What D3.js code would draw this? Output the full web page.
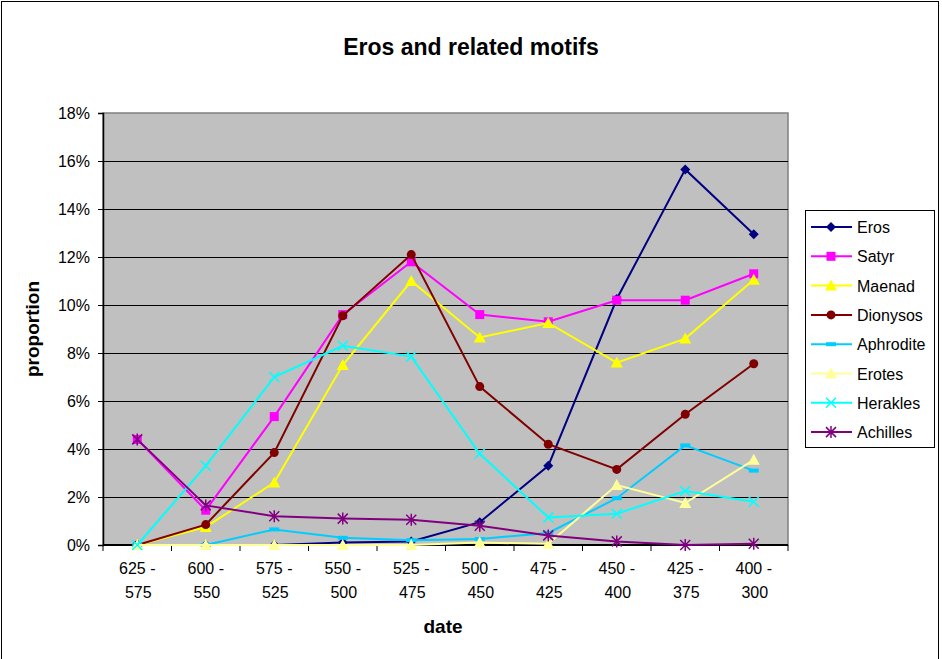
<!DOCTYPE html>
<html>
<head>
<meta charset="utf-8">
<script src="https://cdn.jsdelivr.net/npm/d3@7"></script>
<style>
body { margin: 0; background: #fff; }
text { font-family: "Liberation Sans", Arial, sans-serif; }
</style>
</head>
<body>
<script>
var dates = ["625 - 575", "600 - 550", "575 - 525", "550 - 500", "525 - 475",
             "500 - 450", "475 - 425", "450 - 400", "425 - 375", "400 - 300"];
var eros      = [0, 0, 0, 0.1, 0.15, 0.95, 3.3, 10.25, 15.65, 12.95];
var satyr     = [4.4, 1.45, 5.35, 9.6, 11.8, 9.6, 9.3, 10.2, 10.2, 11.3];
var maenad    = [0, 0.75, 2.6, 7.5, 11.0, 8.65, 9.25, 7.6, 8.6, 11.05];
var dionysos  = [0, 0.85, 3.85, 9.55, 12.1, 6.6, 4.2, 3.15, 5.45, 7.55];
var aphrodite = [0, 0, 0.65, 0.3, 0.2, 0.25, 0.5, 1.95, 4.15, 3.1];
var erotes    = [0, 0, 0, 0, 0, 0.1, 0.05, 2.5, 1.75, 3.55];
var herakles  = [0, 3.3, 7.0, 8.3, 7.85, 3.8, 1.15, 1.3, 2.25, 1.8];
var achilles  = [4.4, 1.65, 1.2, 1.1, 1.05, 0.8, 0.4, 0.15, 0, 0.05];
var yTicks = [0, 2, 4, 6, 8, 10, 12, 14, 16, 18];

var series = [
  {name: "Eros", values: eros, color: "#000080", marker: "diamond"},
  {name: "Satyr", values: satyr, color: "#FF00FF", marker: "square"},
  {name: "Maenad", values: maenad, color: "#FFFF00", marker: "triangle"},
  {name: "Dionysos", values: dionysos, color: "#800000", marker: "circle"},
  {name: "Aphrodite", values: aphrodite, color: "#00CCFF", marker: "dash"},
  {name: "Erotes", values: erotes, color: "#FFFF99", marker: "triangle"},
  {name: "Herakles", values: herakles, color: "#00FFFF", marker: "x"},
  {name: "Achilles", values: achilles, color: "#800080", marker: "star"}
];

var w = 942, h = 659;
var pLeft = 103, pRight = 788, pTop = 113, pBottom = 545;

var svg = d3.select("body").append("svg")
  .attr("width", w)
  .attr("height", h);

// chart frame
svg.append("rect")
  .attr("x", 1.5).attr("y", 1.5)
  .attr("width", 937).attr("height", 700)
  .attr("fill", "#fff")
  .attr("stroke", "#000");

svg.append("text")
  .attr("x", 471).attr("y", 55)
  .attr("text-anchor", "middle")
  .attr("font-size", "23px")
  .attr("font-weight", "bold")
  .text("Eros and related motifs");

var x = d3.scaleBand().domain(dates).range([pLeft, pRight]);
var y = d3.scaleLinear().domain([0, 18]).range([pBottom, pTop]);

// plot area
svg.append("rect")
  .attr("x", pLeft).attr("y", pTop)
  .attr("width", pRight - pLeft).attr("height", pBottom - pTop)
  .attr("fill", "#C0C0C0")
  .attr("stroke", "#808080")
  .attr("stroke-width", 1.5);

svg.selectAll(".grid")
  .data(yTicks.slice(1, -1))
  .enter()
  .append("line")
  .attr("x1", pLeft).attr("x2", pRight)
  .attr("y1", function(d) { return Math.round(y(d)) + 0.5; })
  .attr("y2", function(d) { return Math.round(y(d)) + 0.5; })
  .attr("stroke", "#000");

// y axis
var yAxis = svg.append("g")
  .attr("transform", "translate(" + pLeft + ",0)")
  .call(d3.axisLeft(y).tickValues(yTicks).tickSize(5).tickPadding(8)
    .tickFormat(function(d) { return d + "%"; }));
yAxis.select(".domain").attr("stroke", "#000").attr("stroke-width", 1.5);
yAxis.selectAll("text").attr("font-size", "16px").attr("fill", "#000")
  .style("font-family", "Liberation Sans, Arial, sans-serif");

// x axis
var xAxis = svg.append("g")
  .attr("transform", "translate(0," + pBottom + ")");
xAxis.append("line")
  .attr("x1", pLeft).attr("x2", pRight)
  .attr("y1", 0).attr("y2", 0)
  .attr("stroke", "#000").attr("stroke-width", 2);
xAxis.selectAll(".tk")
  .data(dates.concat(["end"]))
  .enter()
  .append("line")
  .attr("x1", function(d, i) { return pLeft + i * x.bandwidth(); })
  .attr("x2", function(d, i) { return pLeft + i * x.bandwidth(); })
  .attr("y1", 0).attr("y2", 6)
  .attr("stroke", "#000");
var xl = xAxis.selectAll(".lbl")
  .data(dates)
  .enter()
  .append("text")
  .attr("text-anchor", "middle")
  .attr("font-size", "16px");
xl.append("tspan")
  .attr("x", function(d) { return x(d) + x.bandwidth() / 2; })
  .attr("y", 29)
  .text(function(d) { return d.split(" - ")[0] + " -"; });
xl.append("tspan")
  .attr("x", function(d) { return x(d) + x.bandwidth() / 2 + 1; })
  .attr("y", 53)
  .text(function(d) { return d.split(" - ")[1]; });

svg.append("text")
  .attr("x", 443).attr("y", 633)
  .attr("text-anchor", "middle")
  .attr("font-size", "19px")
  .attr("font-weight", "bold")
  .text("date");

svg.append("text")
  .attr("transform", "translate(39,329) rotate(-90)")
  .attr("text-anchor", "middle")
  .attr("font-size", "19px")
  .attr("font-weight", "bold")
  .text("proportion");

function drawMarker(g, type, color) {
  if (type === "diamond") {
    g.append("path").attr("d", "M0,-5L5,0L0,5L-5,0Z").attr("fill", color);
  } else if (type === "square") {
    g.append("rect").attr("x", -4.5).attr("y", -4.5).attr("width", 9).attr("height", 9)
      .attr("fill", color);
  } else if (type === "triangle") {
    g.append("path").attr("d", "M0,-6L6,5L-6,5Z").attr("fill", color);
  } else if (type === "circle") {
    g.append("circle").attr("r", 4.5).attr("fill", color);
  } else if (type === "dash") {
    g.append("rect").attr("x", -5).attr("y", -2).attr("width", 10).attr("height", 4)
      .attr("fill", color);
  } else if (type === "x") {
    g.append("path").attr("d", "M-5,-5L5,5M-5,5L5,-5")
      .attr("stroke", color).attr("stroke-width", 1.5);
  } else if (type === "star") {
    g.append("path").attr("d", "M-5,-5L5,5M-5,5L5,-5M0,-6L0,6")
      .attr("stroke", color).attr("stroke-width", 1.5);
  }
}

var line = d3.line()
  .x(function(d, i) { return x(dates[i]) + x.bandwidth() / 2; })
  .y(function(d) { return y(d); });

series.forEach(function(s) {
  var g = svg.append("g");
  g.append("path")
    .attr("d", line(s.values))
    .attr("fill", "none")
    .attr("stroke", s.color)
    .attr("stroke-width", 2);
  s.values.forEach(function(v, i) {
    var m = g.append("g")
      .attr("transform", "translate(" + (x(dates[i]) + x.bandwidth() / 2) + "," + y(v) + ")");
    drawMarker(m, s.marker, s.color);
  });
});

// legend
var legend = svg.append("g").attr("transform", "translate(805,210)");
legend.append("rect")
  .attr("x", 0.5).attr("y", 0.5)
  .attr("width", 129).attr("height", 237)
  .attr("fill", "#fff").attr("stroke", "#000");
series.forEach(function(s, i) {
  var ly = 17 + i * 29.3;
  legend.append("line")
    .attr("x1", 6).attr("x2", 47)
    .attr("y1", ly).attr("y2", ly)
    .attr("stroke", s.color).attr("stroke-width", 2);
  var m = legend.append("g").attr("transform", "translate(26," + ly + ")");
  drawMarker(m, s.marker, s.color);
  legend.append("text")
    .attr("x", 52).attr("y", ly + 6)
    .attr("font-size", "16px")
    .text(s.name);
});
</script>
</body>
</html>
